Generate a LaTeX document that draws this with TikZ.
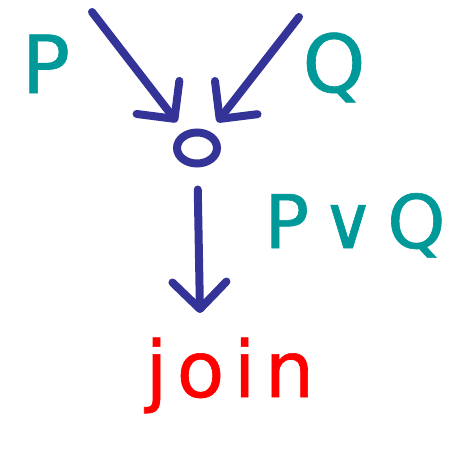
\documentclass[tikz,border=0pt]{standalone}
\usepackage{fontspec}
\setmainfont{DejaVu Sans}[FakeBold=0.8]
\usetikzlibrary{arrows.meta,shapes.geometric}

\definecolor{penblue}{HTML}{343398}
\definecolor{penteal}{HTML}{009999}
\definecolor{penred}{HTML}{FF0000}

\tikzset{
    wire/.style={draw=penblue, line width=8pt, line cap=round, line join=round,
        -{Straight Barb[length=27pt,width=54pt,round]}},
    joinpt/.style={draw=penblue, line width=8pt, ellipse, inner sep=0pt,
        minimum width=40pt, minimum height=31pt},
    prop/.style={text=penteal, font=\fontsize{80}{80}\selectfont, inner sep=0pt, anchor=base},
}

\begin{document}
\begin{tikzpicture}[x=1pt, y=-1pt]
        \useasboundingbox (0,0) rectangle (465,463);

        % the meeting point and the loose ends
        \node[joinpt] (o) at (197,148) {};
        \coordinate (pin) at (92,12);
        \coordinate (qin) at (299,17);
        \coordinate (out) at (200,313);

        % labels
        \node[prop] (p) at (46,93) {P};
        \node[prop] (q) at (334,92) {Q};
        \node[prop, font=\fontsize{74}{74}\selectfont] (pq) at (355,248) {P\hspace{12pt}∨\hspace{12pt}Q};
        \node[text=penred, inner sep=0pt, anchor=base,
              font=\fontsize{78}{78}\selectfont\addfontfeature{LetterSpace=12}] (join) at (230,397) {join};

        \foreach \a in {pin,qin}{
            \draw[wire, shorten >=12pt] (\a) -- (o);
        }
        \draw[wire, shorten <=22pt] (o) -- (out);

    \end{tikzpicture}
\end{document}
